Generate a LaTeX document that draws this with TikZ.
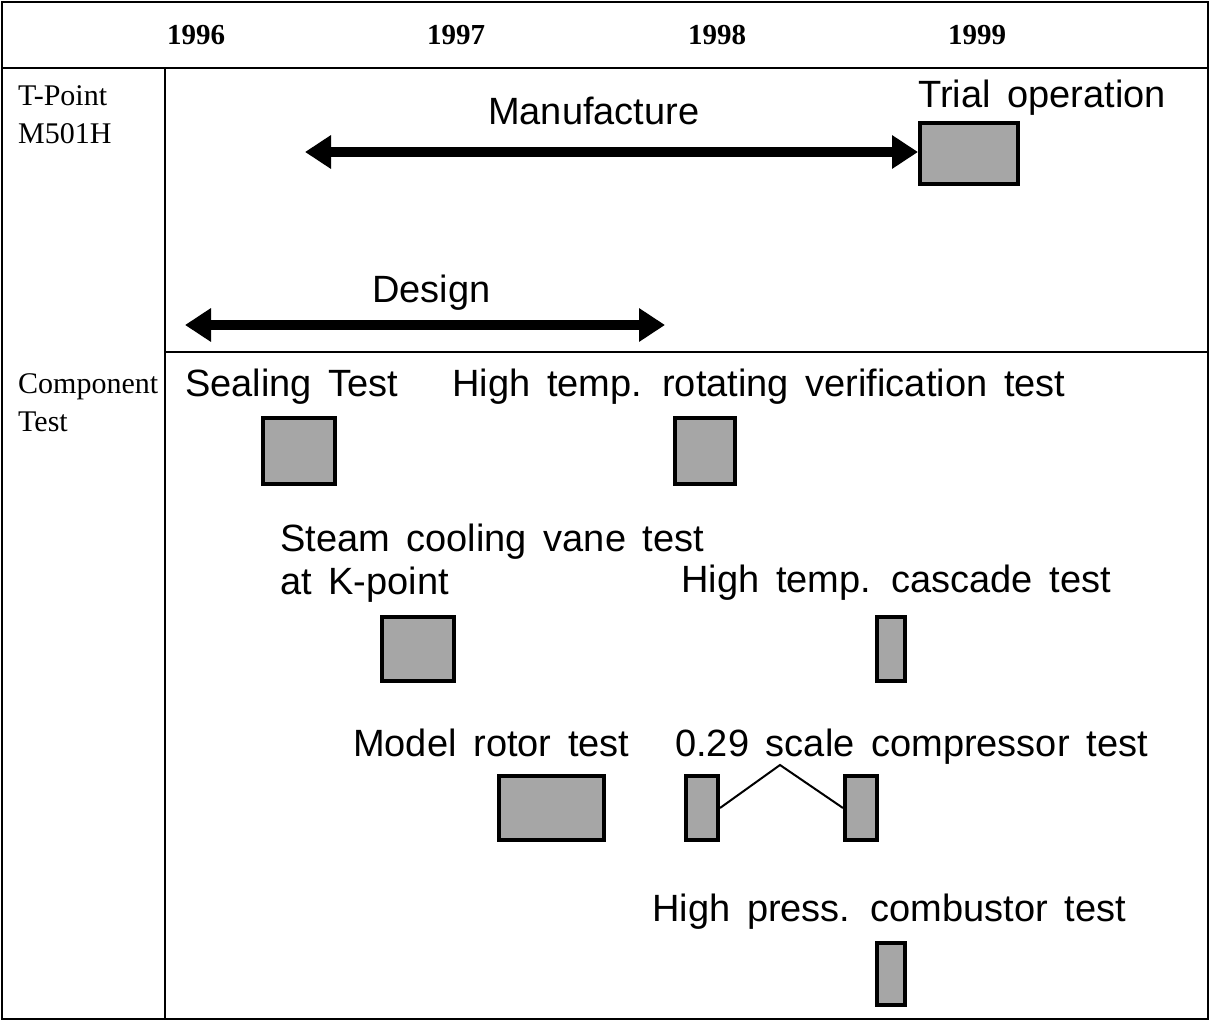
\documentclass[tikz,border=0pt]{standalone}
\usepackage{fontspec}
\setmainfont{Liberation Serif}
\newfontfamily\chartfont{Liberation Sans}
\usepackage{xcolor}
\usetikzlibrary{arrows.meta,positioning}
\definecolor{boxGray}{HTML}{A6A6A6}
\newcommand\taskfont{\chartfont\fontsize{38}{43}\selectfont\spaceskip=0.44em plus 0.1em\relax}

\begin{document}
\begin{tikzpicture}[x=1pt, y=-1pt,
  rule/.style={line width=2.5pt},
  year/.style={font=\fontsize{29}{34}\selectfont\bfseries, anchor=base west, inner sep=0pt},
  rowlabel/.style={font=\fontsize{30}{38}\selectfont, anchor=north west, inner sep=0pt, align=left},
  task/.style={font=\taskfont, anchor=base west, inner sep=0pt},
  tasktwo/.style={task, anchor=north west, align=left},
  testbox/.style={draw, line width=4pt, fill=boxGray, inner sep=0pt},
  spanarrow/.style={line width=10pt, {Triangle[length=26pt,width=32pt]}-{Triangle[length=26pt,width=32pt]}},
  link/.style={line width=2pt}]
  \useasboundingbox (0,0) rectangle (1211,1022);
  % table frame
  \draw[rule] (2,2) rectangle (1208,1019);
  \draw[rule] (2,68) -- (1208,68);
  \draw[rule] (165,68) -- (165,1019);
  \draw[rule] (165,352) -- (1208,352);
  % years
  \node[year] (y96) at (167,45) {1996};
  \node[year] (y97) at (427,45) {1997};
  \node[year] (y98) at (688,45) {1998};
  \node[year] (y99) at (948,45) {1999};
  % row labels
  \node[rowlabel] (tpoint) at (18,85) {T-Point\\M501H};
  \node[rowlabel] (comptest) at (18,373) {Component\\Test};
  % T-Point row
  \node[task] (mfgtxt) at (488,125) {Manufacture};
  \node[task] (trialtxt) at (918,108) {Trial operation};
  \node[testbox, minimum width=98pt, minimum height=61pt] (trial) at (969,154) {};
  \coordinate (mfgL) at (305,152);
  \draw[spanarrow] (mfgL) -- (trial.west |- mfgL);
  \node[task] (designtxt) at (372,302) {Design};
  \coordinate (desL) at (185,325);
  \coordinate (desR) at (665,325);
  \draw[spanarrow] (desL) -- (desR);
  % component tests
  \node[task] (sealtxt) at (185,396) {Sealing Test};
  \node[testbox, minimum width=72pt, minimum height=66pt] (seal) at (299,451) {};
  \node[task] (rottxt) at (452,396) {High temp. rotating verification test};
  \node[testbox, minimum width=60pt, minimum height=66pt] (rot) at (705,451) {};
  \node[tasktwo] (vanetxt) at (280,524) {Steam cooling vane test\\at K-point};
  \node[testbox, minimum width=72pt, minimum height=64pt] (vane) at (418,649) {};
  \node[task] (castxt) at (681,592) {High temp. cascade test};
  \node[testbox, minimum width=28pt, minimum height=64pt] (cas) at (891,649) {};
  \node[task] (rotortxt) at (353,756) {Model rotor test};
  \node[testbox, minimum width=105pt, minimum height=64pt] (rotor) at (551.5,808) {};
  \node[task] (comptxt) at (675,756) {0.29 scale compressor test};
  \node[testbox, minimum width=32pt, minimum height=64pt] (comp1) at (702,808) {};
  \node[testbox, minimum width=32pt, minimum height=64pt] (comp2) at (861,808) {};
  \coordinate (peak) at (780,765);
  \draw[link] (comp1.east) -- (peak) -- (comp2.west);
  \node[task] (combtxt) at (652,921) {High press. combustor test};
  \node[testbox, minimum width=28pt, minimum height=62pt] (comb) at (891,974) {};
\end{tikzpicture}
\end{document}
